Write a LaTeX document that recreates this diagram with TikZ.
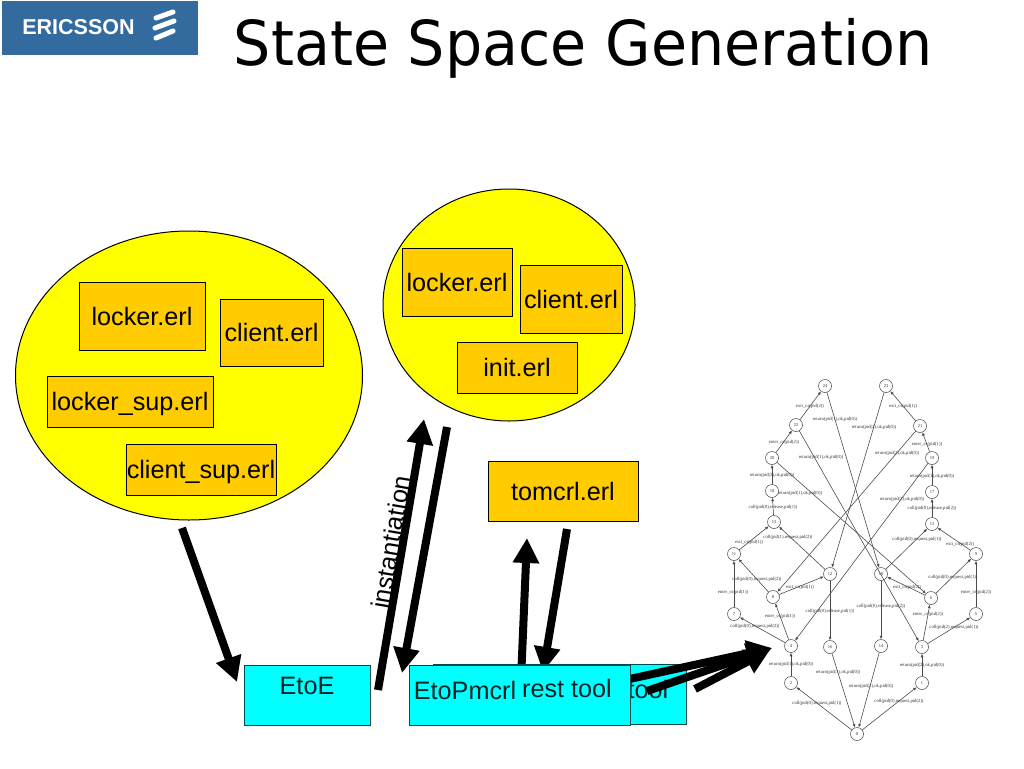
\documentclass[tikz,border=0pt]{standalone}
\usepackage{fontspec}
\setmainfont{Liberation Sans}
\newfontfamily\titlefont{DejaVu Sans}
\newfontfamily\graphfont{Liberation Serif}
\usetikzlibrary{arrows.meta}
\definecolor{logoblue}{HTML}{336B9E}
\definecolor{boxorange}{HTML}{FFCC00}
\definecolor{blobyellow}{HTML}{FFFF00}
\definecolor{toolcyan}{HTML}{00FFFF}
\begin{document}
\begin{tikzpicture}[x=1pt,y=-1pt]
\tikzstyle{every node}+=[inner sep=0pt]
\tikzstyle{blob}=[draw=black,line width=1pt,fill=blobyellow]
\tikzstyle{erlbox}=[draw=black,line width=1pt,fill=boxorange,font=\fontsize{25.2}{28}\selectfont]
\tikzstyle{toolbox}=[draw=black!70!toolcyan,line width=1pt,fill=toolcyan]
\tikzstyle{tooltext}=[font=\fontsize{25.2}{28}\selectfont,text=black!85!toolcyan]
\tikzstyle{bigarrow}=[line width=8pt,-{Triangle[length=25pt,width=25pt]}]
\tikzstyle{state}=[draw=black!75,circle,line width=0.5pt,fill=white,minimum size=13pt,font=\graphfont\fontsize{4.5}{5}\selectfont,text=black!80]
\tikzstyle{edge}=[draw=black!70,line width=0.6pt,-{Latex[length=3.5pt,width=3pt]}]
\tikzstyle{edgelabel}=[font=\graphfont\fontsize{4.7}{5}\selectfont,text=black!80]
\useasboundingbox (0,0) rectangle (1024,768);
\fill [logoblue] (2,1) rectangle (198,55);
\node [text=white,font=\bfseries\fontsize{21.5}{22}\selectfont] (logotext) at (78.5,27.5) {ERICSSON};
\draw [white,line width=5pt,line cap=round] (156,18) -- (173,12);
\draw [white,line width=5pt,line cap=round] (155,28) -- (174,21);
\draw [white,line width=5pt,line cap=round] (156,38) -- (173,31);
\node [anchor=base,font=\titlefont\fontsize{62}{68}\selectfont] (title) at (583.5,65) {\scalebox{0.947}[1]{State Space Generation}};
\draw [blob] (189,375.5) ellipse (173.5 and 144.5);
\draw [blob] (509,305) ellipse (126 and 116);
\node [erlbox,minimum width=126pt,minimum height=68pt] (locker) at (142,316) {locker.erl};
\node [erlbox,minimum width=103pt,minimum height=67pt] (client) at (271.5,332.5) {client.erl};
\node [erlbox,text depth=0pt,minimum width=166pt,minimum height=51pt] (lockersup) at (130,401.5) {locker\_sup.erl};
\node [erlbox,text depth=0pt,minimum width=150pt,minimum height=51pt] (clientsup) at (201,469.5) {client\_sup.erl};
\node [erlbox,minimum width=110pt,minimum height=68pt] (lockertwo) at (457,282) {locker.erl};
\node [erlbox,minimum width=102pt,minimum height=68pt] (clienttwo) at (571,299) {client.erl};
\node [erlbox,minimum width=120pt,minimum height=51pt] (init) at (517,367.5) {init.erl};
\node [erlbox,minimum width=150pt,minimum height=60pt] (tomcrl) at (563,491) {tomcrl.erl};
\coordinate (leftout) at (182,528);
\coordinate (leftin) at (237,682);
\coordinate (instout) at (378,690);
\coordinate (instin) at (424,419);
\coordinate (backout) at (447,427);
\coordinate (backin) at (402,673);
\coordinate (restup) at (521,680);
\coordinate (restin) at (527,538);
\coordinate (tomout) at (567,529);
\coordinate (tomin) at (543,672);
\coordinate (graphin) at (772,648);
\coordinate (graphintwo) at (770,650);
\coordinate (restout) at (625,680);
\coordinate (toolout) at (647,691);
\coordinate (lastout) at (695,689);
\node [toolbox,minimum width=126pt,minimum height=60pt] (etoe) at (307,695) {};
\node [tooltext] (etoetext) at (307,686) {EtoE};
\draw [bigarrow] (leftout) -- (leftin);
\draw [bigarrow] (instout) -- (instin);
\draw [bigarrow] (backout) -- (backin);
\draw [bigarrow] (restup) -- (restin);
\draw [bigarrow] (tomout) -- (tomin);
\node [tooltext,text=black,rotate=80.5] (instantiation) at (391,542) {instantiation};
\node [toolbox,minimum width=253pt,minimum height=60pt] (toolback) at (559.5,694) {};
\node [toolbox,minimum width=165pt,minimum height=60pt] (backtwo) at (547.5,694) {};
\node [toolbox,minimum width=127pt,minimum height=60pt] (backthree) at (566.5,694) {};
\node [tooltext] (tooltxt) at (648,689) {tool};
\draw [bigarrow] (restout) -- (graphin);
\draw [bigarrow] (toolout) -- (graphin);
\draw [bigarrow] (lastout) -- (graphintwo);
\node [toolbox,minimum width=221pt,minimum height=60pt] (restbox) at (519.5,695) {};
\node [tooltext] (etopmcrl) at (465,690) {EtoPmcrl};
\node [tooltext] (resttool) at (567,688) {rest tool};
\node [state] (s24) at (825,386) {24};
\node [state] (s23) at (886,386) {23};
\node [state] (s22) at (796,425) {22};
\node [state] (s21) at (920,426) {21};
\node [state] (s20) at (772,458) {20};
\node [state] (s19) at (932,458) {19};
\node [state] (s18) at (772,491) {18};
\node [state] (s17) at (932,492) {17};
\node [state] (s15) at (774,522) {15};
\node [state] (s13) at (932,524) {13};
\node [state] (s11) at (734,554) {11};
\node [state] (s9) at (976,554) {9};
\node [state] (s12) at (830,574) {12};
\node [state] (s10) at (881,574) {10};
\node [state] (s8) at (773,597) {8};
\node [state] (s6) at (931,598) {6};
\node [state] (s7) at (734,614) {7};
\node [state] (s5) at (976,614) {5};
\node [state] (s4) at (791,646) {4};
\node [state] (s3) at (922,647) {3};
\node [state] (s16) at (830,647) {16};
\node [state] (s14) at (881,646) {14};
\node [state] (s2) at (791,683) {2};
\node [state] (s1) at (922,683) {1};
\node [state] (s0) at (857,734) {0};
\draw [edge] (s0) -- (s1);
\draw [edge] (s0) -- (s2);
\draw [edge] (s16) -- (s0);
\draw [edge] (s14) -- (s0);
\draw [edge] (s2) -- (s4);
\draw [edge] (s1) -- (s3);
\draw [edge] (s4) -- (s7);
\draw [edge] (s4) -- (s8);
\draw [edge] (s3) -- (s6);
\draw [edge] (s3) -- (s5);
\draw [edge] (s7) -- (s11);
\draw [edge] (s5) -- (s9);
\draw [edge] (s8) -- (s11);
\draw [edge] (s6) -- (s9);
\draw [edge] (s8) -- (s12);
\draw [edge] (s6) -- (s10);
\draw [edge] (s11) -- (s15);
\draw [edge] (s9) -- (s13);
\draw [edge] (s15) -- (s18);
\draw [edge] (s18) -- (s20);
\draw [edge] (s20) -- (s22);
\draw [edge] (s22) -- (s24);
\draw [edge] (s13) -- (s17);
\draw [edge] (s17) -- (s19);
\draw [edge] (s19) -- (s21);
\draw [edge] (s21) -- (s23);
\draw [edge] (s12) -- (s16);
\draw [edge] (s10) -- (s14);
\draw [edge] (s24) -- (s10);
\draw [edge] (s23) -- (s12);
\draw [edge] (s22) -- (s3);
\draw [edge] (s21) -- (s8);
\draw [edge] (s20) -- (s6);
\draw [edge] (s19) -- (s4);
\draw [edge] (s12) -- (s15);
\draw [edge] (s10) -- (s13);
\node [edgelabel] (e1) at (810,406) {exit\_cs(pid(2))};
\node [edgelabel] (e2) at (835,419) {return(pid(1),ok,pid(0))};
\node [edgelabel] (e3) at (874,427) {return(pid(2),ok,pid(0))};
\node [edgelabel] (e4) at (903,406) {exit\_cs(pid(1))};
\node [edgelabel] (e5) at (784,442) {enter\_cs(pid(2))};
\node [edgelabel] (e6) at (927,444) {enter\_cs(pid(1))};
\node [edgelabel] (e7) at (821,457) {return(pid(1),ok,pid(0))};
\node [edgelabel] (e8) at (897,453) {return(pid(2),ok,pid(0))};
\node [edgelabel] (e9) at (772,475) {return(pid(2),ok,pid(0))};
\node [edgelabel] (e10) at (932,476) {return(pid(1),ok,pid(0))};
\node [edgelabel] (e11) at (800,493) {return(pid(1),ok,pid(0))};
\node [edgelabel] (e12) at (902,499) {return(pid(2),ok,pid(0))};
\node [edgelabel] (e13) at (773,507) {coll(pid(0),release,pid(1))};
\node [edgelabel] (e14) at (932,508) {coll(pid(0),release,pid(2))};
\node [edgelabel] (e15) at (788,537) {coll(pid(1),request,pid(2))};
\node [edgelabel] (e16) at (917,539) {coll(pid(0),request,pid(1))};
\node [edgelabel] (e17) at (749,542) {exit\_cs(pid(1))};
\node [edgelabel] (e18) at (960,544) {exit\_cs(pid(2))};
\node [edgelabel] (e19) at (757,579) {coll(pid(0),request,pid(2))};
\node [edgelabel] (e20) at (800,587) {exit\_cs(pid(1))};
\node [edgelabel] (e21) at (907,587) {exit\_cs(pid(2))};
\node [edgelabel] (e22) at (953,577) {coll(pid(0),request,pid(1))};
\node [edgelabel] (e23) at (733,592) {enter\_cs(pid(1))};
\node [edgelabel] (e24) at (976,592) {enter\_cs(pid(2))};
\node [edgelabel] (e25) at (830,611) {coll(pid(0),release,pid(1))};
\node [edgelabel] (e26) at (881,606) {coll(pid(0),release,pid(2))};
\node [edgelabel] (e27) at (780,616) {enter\_cs(pid(1))};
\node [edgelabel] (e28) at (928,614) {enter\_cs(pid(2))};
\node [edgelabel] (e29) at (755,626) {coll(pid(0),request,pid(2))};
\node [edgelabel] (e30) at (954,627) {coll(pid(2),request,pid(1))};
\node [edgelabel] (e31) at (791,664) {return(pid(1),ok,pid(0))};
\node [edgelabel] (e32) at (922,665) {return(pid(2),ok,pid(0))};
\node [edgelabel] (e33) at (838,672) {return(pid(1),ok,pid(0))};
\node [edgelabel] (e34) at (871,686) {return(pid(2),ok,pid(0))};
\node [edgelabel] (e35) at (817,703) {coll(pid(0),request,pid(1))};
\node [edgelabel] (e36) at (899,701) {coll(pid(0),request,pid(2))};
\end{tikzpicture}
\end{document}
